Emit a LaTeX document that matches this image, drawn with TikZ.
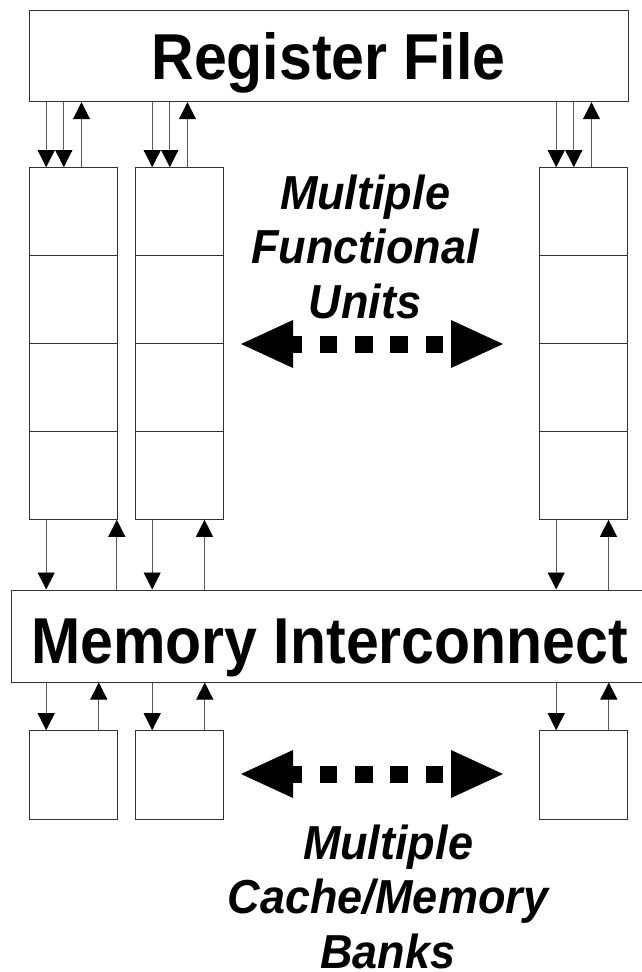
\documentclass[tikz,border=0pt]{standalone}
\usepackage{fontspec}
\setmainfont{Liberation Sans}
\usetikzlibrary{arrows.meta}

% taller letters, as in the slide font
\newcommand{\tallbox}[2][1.1]{\scalebox{1}[#1]{#2}}

\begin{document}
\begin{tikzpicture}[x=1pt,y=-1pt,
    box/.style={draw=black!80,line width=1pt,inner sep=0pt},
    stage/.style={box,minimum width=88pt,minimum height=87.9pt},
    bank/.style={box,minimum width=88pt,minimum height=88.3pt},
    sig/.style={draw=black!65,line width=0.9pt,-{Triangle[length=17pt,width=17pt,color=black]}},
    wide/.style={line width=17pt,dash pattern=on 17.5pt off 17.8pt,dash phase=8.5pt,
      {Triangle[length=52pt,width=48pt,line width=0pt]}-{Triangle[length=52pt,width=48pt,line width=0pt]}},
    banner/.style={font=\fontsize{59}{59}\selectfont\bfseries},
    note/.style={font=\fontsize{45}{51.5}\selectfont\bfseries\itshape,inner sep=0pt}]
  \useasboundingbox (0,0) rectangle (641,972);
  %
  \node[box,banner,minimum width=599pt,minimum height=91.7pt,
    text height=46.3pt,text depth=0pt] (rf) at (328.5,55.85) {\tallbox{Register File}};
  \node[box,banner,minimum width=636pt,minimum height=92pt,
    text height=54pt,text depth=0pt] (mi) at (329.7,636) {\tallbox{Memory Interconnect}};
  %
  \foreach \col/\x in {a/73,b/179,c/583} {
    \foreach \s in {1,...,4}
      \node[stage] (\col\s) at (\x,123.75+87.9*\s) {};
    \node[bank] (bk\col) at (\x,774.85) {};
  }
  %
  \foreach \col/\up in {a/88.3,b/70,c/70} {
    \draw[sig] ([xshift=17.7pt]\col1.north west |- rf.south) -- ([xshift=17.7pt]\col1.north west);
    \draw[sig] ([xshift=35.3pt]\col1.north west |- rf.south) -- ([xshift=35.3pt]\col1.north west);
    \draw[sig] ([xshift=53pt]\col1.north west) -- ([xshift=53pt]\col1.north west |- rf.south);
    %
    \draw[sig] ([xshift=17.7pt]\col4.south west) -- ([xshift=17.7pt]\col4.south west |- mi.north);
    \draw[sig] ([xshift=\up pt]\col4.south west |- mi.north) -- ([xshift=\up pt]\col4.south west);
    %
    \draw[sig] ([xshift=17.7pt]bk\col.north west |- mi.south) -- ([xshift=17.7pt]bk\col.north west);
    \draw[sig] ([xshift=70.3pt]bk\col.north west) -- ([xshift=70.3pt]bk\col.north west |- mi.south);
  }
  %
  \coordinate (fuL) at (241,344);
  \coordinate (fuR) at (503,344);
  \coordinate (bkL) at (241,774);
  \coordinate (bkR) at (503,774);
  \draw[wide] (fuL) -- (fuR);
  \draw[wide] (bkL) -- (bkR);
  %
  \node[note] (fu) at (365,253)
    {\tallbox[1.06]{\begin{tabular}{@{}c@{}}Multiple\\Functional\\Units\end{tabular}}};
  \node[note] (bk) at (388,903)
    {\tallbox[1.06]{\begin{tabular}{@{}c@{}}Multiple\\Cache/Memory\\Banks\end{tabular}}};
\end{tikzpicture}
\end{document}
